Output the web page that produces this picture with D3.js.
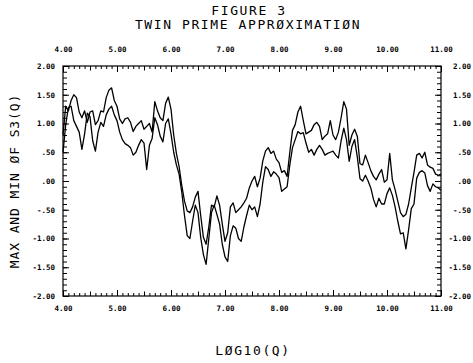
<!DOCTYPE html>
<html>
<head>
<meta charset="utf-8">
<script src="https://cdn.jsdelivr.net/npm/d3@7/dist/d3.min.js"></script>
<style>
  body { margin: 0; background: #fff; }
  .tick text { font-family: "DejaVu Sans Mono", monospace; font-size: 7.5px; font-weight: bold; fill: #000; }
  .ttl { font-family: "DejaVu Sans Mono", monospace; font-size: 13px; letter-spacing: 1.6px; fill: #000; }
  .ytl { letter-spacing: 0.9px; }
</style>
</head>
<body>
<div id="chart"></div>
<script>
// log10(Q) sample grid
const logQ = [
  4.00,4.05,4.10,4.15,4.20,4.25,4.30,4.35,4.40,4.45,
  4.50,4.55,4.60,4.65,4.70,4.75,4.80,4.85,4.90,4.95,
  5.00,5.05,5.10,5.15,5.20,5.25,5.30,5.35,5.40,5.45,
  5.50,5.55,5.60,5.65,5.70,5.75,5.80,5.85,5.90,5.95,
  6.00,6.05,6.10,6.15,6.20,6.25,6.30,6.35,6.40,6.45,
  6.50,6.55,6.60,6.65,6.70,6.75,6.80,6.85,6.90,6.95,
  7.00,7.05,7.10,7.15,7.20,7.25,7.30,7.35,7.40,7.45,
  7.50,7.55,7.60,7.65,7.70,7.75,7.80,7.85,7.90,7.95,
  8.00,8.05,8.10,8.15,8.20,8.25,8.30,8.35,8.40,8.45,
  8.50,8.55,8.60,8.65,8.70,8.75,8.80,8.85,8.90,8.95,
  9.00,9.05,9.10,9.15,9.20,9.25,9.30,9.35,9.40,9.45,
  9.50,9.55,9.60,9.65,9.70,9.75,9.80,9.85,9.90,9.95,
  10.00,10.05,10.10,10.15,10.20,10.25,10.30,10.35,10.40,10.45,
  10.50,10.55,10.60,10.65,10.70,10.75,10.80,10.85,10.90,10.95,
  11.00
];

// max of S3(Q)
const s3Max = [
  0.80,1.30,1.22,1.40,1.50,1.45,1.20,1.10,1.22,1.02,
  1.20,1.22,0.98,1.05,1.22,1.20,1.45,1.58,1.62,1.40,
  1.30,1.08,1.00,1.08,1.10,1.02,0.86,0.95,1.00,1.05,
  0.90,0.95,1.00,0.85,1.38,1.22,1.10,1.05,1.35,1.46,
  1.25,0.80,0.48,0.25,-0.08,-0.35,-0.52,-0.55,-0.45,-0.28,
  -0.18,-0.60,-0.98,-1.10,-0.80,-0.42,-0.45,-0.26,-0.42,-0.75,
  -1.05,-0.90,-0.45,-0.38,-0.55,-0.50,-0.45,-0.38,-0.30,-0.12,
  0.00,0.08,-0.10,0.05,0.35,0.52,0.58,0.48,0.52,0.38,
  0.32,0.15,0.18,0.08,0.50,0.88,0.98,1.20,1.30,1.05,
  0.82,0.85,0.88,0.98,1.02,0.95,0.72,0.78,0.82,1.05,
  0.80,0.72,0.85,1.10,1.38,1.25,0.62,0.80,0.90,0.78,
  0.30,0.28,0.45,0.32,0.18,0.08,0.02,0.12,0.20,-0.02,
  0.02,0.48,0.02,-0.15,-0.35,-0.55,-0.62,-0.58,-0.40,-0.12,
  0.15,0.45,0.48,0.40,0.50,0.28,0.24,0.22,0.12,0.10,
  0.12
];

// min of S3(Q)
const s3Min = [
  0.50,0.98,1.28,1.30,1.05,0.95,0.85,0.55,0.82,1.18,
  1.12,0.70,0.52,0.85,1.02,0.95,1.15,1.25,1.30,1.15,
  1.05,0.85,0.72,0.65,0.62,0.58,0.45,0.50,0.62,0.72,
  0.66,0.20,0.62,0.74,1.10,0.98,0.78,0.68,1.00,1.08,
  0.82,0.50,0.28,0.12,-0.20,-0.60,-0.95,-1.00,-0.70,-0.42,
  -0.55,-0.98,-1.28,-1.45,-1.00,-0.55,-0.42,-0.58,-0.75,-1.10,
  -1.32,-1.40,-0.95,-0.78,-0.82,-1.00,-1.05,-0.80,-0.60,-0.42,
  -0.50,-0.45,-0.62,-0.40,-0.02,0.25,0.20,0.08,0.16,0.12,
  0.06,-0.18,-0.14,-0.10,0.28,0.58,0.72,0.86,0.82,0.84,
  0.66,0.50,0.55,0.45,0.55,0.62,0.55,0.45,0.48,0.50,
  0.52,0.45,0.40,0.70,0.92,0.72,0.34,0.60,0.72,0.42,
  0.04,0.00,0.10,0.00,-0.12,-0.32,-0.45,-0.30,-0.40,-0.40,
  -0.22,-0.12,-0.25,-0.45,-0.70,-0.92,-0.90,-1.18,-0.85,-0.48,
  -0.40,0.05,0.15,0.18,0.14,-0.08,-0.18,-0.05,-0.10,-0.12,
  -0.16
];

const xTicks = [4, 5, 6, 7, 8, 9, 10, 11];
const xTickLabels = ["4.00", "5.00", "6.00", "7.00", "8.00", "9.00", "10.00", "11.00"];
const yTicks = [-2, -1.5, -1, -0.5, 0, 0.5, 1, 1.5, 2];
const yTickLabels = ["-2.00", "-1.50", "-1.00", "-.50", ".00", ".50", "1.00", "1.50", "2.00"];

const margin = {left: 63, top: 66};
const width = 378;
const height = 230;

const svg = d3.select("#chart")
  .append("svg")
  .attr("width", 473)
  .attr("height", 363);

const g = svg.append("g")
  .attr("transform", "translate(" + margin.left + "," + margin.top + ")");

const x = d3.scaleLinear().domain([4, 11]).range([0, width]);
const y = d3.scaleLinear().domain([-2, 2]).range([height, 0]);

// minor tick positions
const xMinor = d3.range(40, 111).map(d => d / 10);
const xHalf = d3.range(4.5, 11, 1);
const yMinor = d3.range(-20, 21).map(d => d / 10);

function noLabels(axis, vals, len) {
  return axis.tickValues(vals).tickFormat("").tickSizeInner(-len).tickSizeOuter(0);
}

// top axis
g.append("g").call(noLabels(d3.axisTop(x), xMinor, 3));
g.append("g").call(noLabels(d3.axisTop(x), xHalf, 4.5));
g.append("g").call(d3.axisTop(x).tickValues(xTicks)
  .tickFormat((d, i) => xTickLabels[i]).tickSizeInner(-6).tickSizeOuter(0).tickPadding(14));

// bottom axis
g.append("g").attr("transform", "translate(0," + height + ")")
  .call(noLabels(d3.axisBottom(x), xMinor, 3));
g.append("g").attr("transform", "translate(0," + height + ")")
  .call(noLabels(d3.axisBottom(x), xHalf, 4.5));
g.append("g").attr("transform", "translate(0," + height + ")")
  .call(d3.axisBottom(x).tickValues(xTicks)
    .tickFormat((d, i) => xTickLabels[i]).tickSizeInner(-6).tickSizeOuter(0).tickPadding(10));

// left axis
g.append("g").call(noLabels(d3.axisLeft(y), yMinor, 4));
g.append("g").call(d3.axisLeft(y).tickValues(yTicks)
  .tickFormat((d, i) => yTickLabels[i]).tickSizeInner(-6).tickSizeOuter(0).tickPadding(8));

// right axis
g.append("g").attr("transform", "translate(" + width + ",0)")
  .call(noLabels(d3.axisRight(y), yMinor, 4));
g.append("g").attr("transform", "translate(" + width + ",0)")
  .call(d3.axisRight(y).tickValues(yTicks)
    .tickFormat((d, i) => yTickLabels[i]).tickSizeInner(-6).tickSizeOuter(0))
  .selectAll("text").attr("text-anchor", "end").attr("x", 30);

g.selectAll(".domain").remove();
g.selectAll(".tick line").attr("stroke", "#000").attr("stroke-width", 1);

// frame
g.append("rect")
  .attr("width", width)
  .attr("height", height)
  .attr("fill", "none")
  .attr("stroke", "#000")
  .attr("stroke-width", 1.2);

// curves
const line = d3.line()
  .x((d, i) => x(logQ[i]))
  .y(d => y(d));

[s3Max, s3Min].forEach(series => {
  g.append("path")
    .datum(series)
    .attr("d", line)
    .attr("fill", "none")
    .attr("stroke", "#000")
    .attr("stroke-width", 1.3)
    .attr("stroke-linejoin", "round");
});

// titles
svg.append("text").attr("class", "ttl")
  .attr("x", 249).attr("y", 15).attr("text-anchor", "middle")
  .text("FIGURE 3");
svg.append("text").attr("class", "ttl")
  .attr("x", 248).attr("y", 29).attr("text-anchor", "middle")
  .text("TWIN PRIME APPRØXIMATIØN");
svg.append("text").attr("class", "ttl")
  .attr("x", 253).attr("y", 355).attr("text-anchor", "middle")
  .text("LØG10(Q)");
svg.append("text").attr("class", "ttl ytl")
  .attr("transform", "translate(19,181) rotate(-90)")
  .attr("text-anchor", "middle")
  .text("MAX AND MIN ØF S3(Q)");
</script>
</body>
</html>
